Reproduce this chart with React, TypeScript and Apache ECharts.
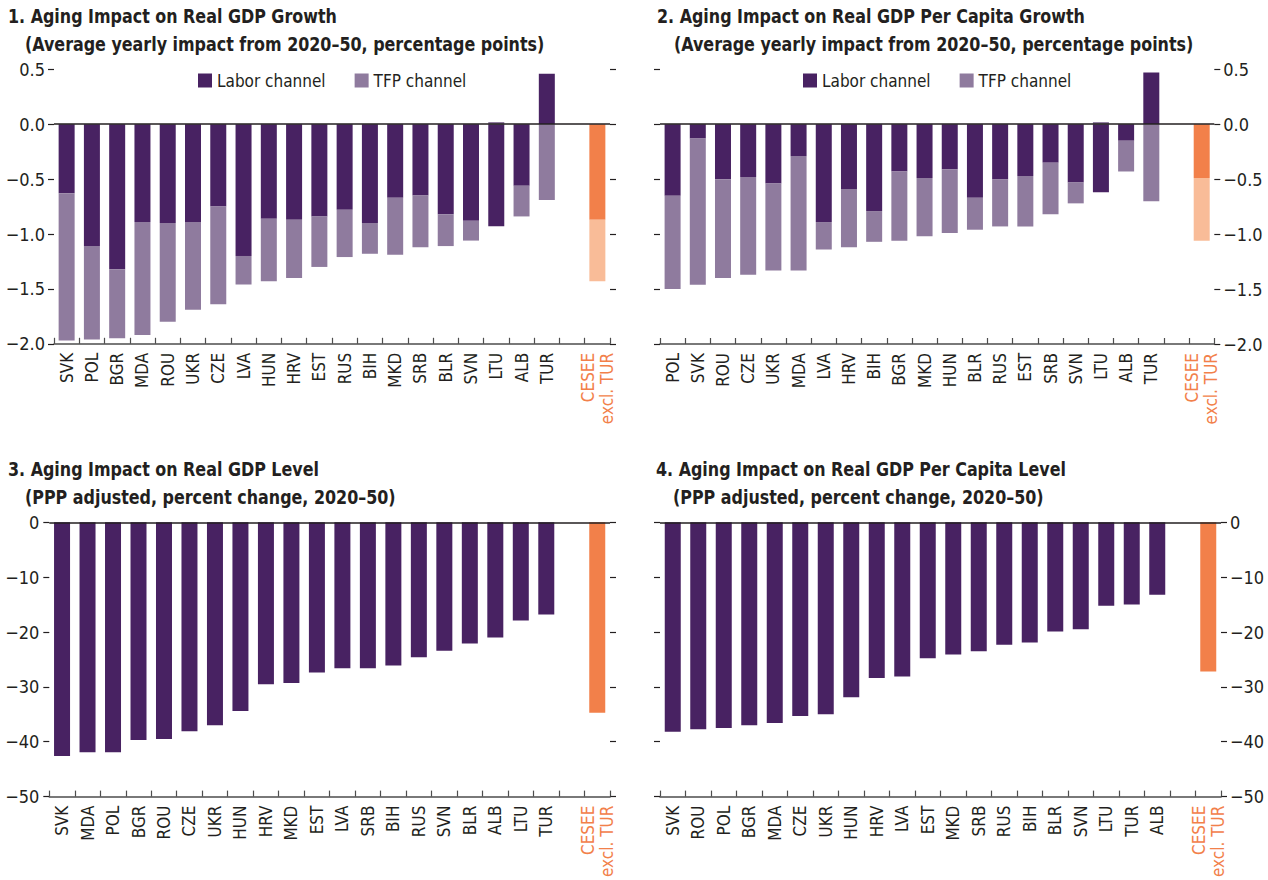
import React, { useEffect, useRef } from "react";
import * as echarts from "echarts";

const FONT = "'Liberation Sans Narrow', 'Arial Narrow', 'DejaVu Sans Condensed', sans-serif";
const DARK = "#231f20";
const LABOR = "#482262";
const TFP = "#8f7b9e";
const ORANGE = "#f2804a";
const LIGHT_ORANGE = "#f9bc98";
const AGG = "CESEE\nexcl. TUR";

// Panel 1: Aging impact on real GDP growth (pp)
const catsP1 = ["SVK", "POL", "BGR", "MDA", "ROU", "UKR", "CZE", "LVA", "HUN", "HRV", "EST", "RUS", "BIH", "MKD", "SRB", "BLR", "SVN", "LTU", "ALB", "TUR", "", AGG];
const laborP1 = [-0.63, -1.11, -1.32, -0.89, -0.9, -0.89, -0.75, -1.2, -0.86, -0.87, -0.84, -0.78, -0.9, -0.67, -0.65, -0.82, -0.88, -0.93, -0.56, 0.46, null, -0.87];
const tfpP1 = [-1.34, -0.85, -0.63, -1.03, -0.9, -0.8, -0.89, -0.26, -0.57, -0.53, -0.46, -0.43, -0.28, -0.52, -0.47, -0.29, -0.18, 0.02, -0.28, -0.69, null, -0.56];

// Panel 2: Aging impact on real GDP per capita growth (pp)
const catsP2 = ["POL", "SVK", "ROU", "CZE", "UKR", "MDA", "LVA", "HRV", "BIH", "BGR", "MKD", "HUN", "BLR", "RUS", "EST", "SRB", "SVN", "LTU", "ALB", "TUR", "", AGG];
const laborP2 = [-0.65, -0.13, -0.5, -0.48, -0.54, -0.29, -0.89, -0.59, -0.79, -0.43, -0.49, -0.41, -0.67, -0.5, -0.47, -0.35, -0.53, -0.62, -0.15, 0.47, null, -0.49];
const tfpP2 = [-0.85, -1.33, -0.9, -0.89, -0.79, -1.04, -0.25, -0.53, -0.28, -0.63, -0.53, -0.58, -0.29, -0.43, -0.46, -0.47, -0.19, 0.02, -0.28, -0.7, null, -0.57];

// Panel 3: Aging impact on real GDP level (%)
const catsP3 = ["SVK", "MDA", "POL", "BGR", "ROU", "CZE", "UKR", "HUN", "HRV", "MKD", "EST", "LVA", "SRB", "BIH", "RUS", "SVN", "BLR", "ALB", "LTU", "TUR", "", AGG];
const levelP3 = [-42.6, -41.9, -41.9, -39.7, -39.5, -38.1, -37.0, -34.4, -29.5, -29.3, -27.4, -26.6, -26.6, -26.1, -24.6, -23.4, -22.1, -21.0, -17.9, -16.8, null, -34.7];

// Panel 4: Aging impact on real GDP per capita level (%)
const catsP4 = ["SVK", "ROU", "POL", "BGR", "MDA", "CZE", "UKR", "HUN", "HRV", "LVA", "EST", "MKD", "SRB", "RUS", "BIH", "BLR", "SVN", "LTU", "TUR", "ALB", "", AGG];
const levelP4 = [-38.2, -37.7, -37.5, -37.0, -36.6, -35.3, -35.0, -31.9, -28.4, -28.1, -24.8, -24.1, -23.5, -22.3, -21.9, -19.9, -19.5, -15.2, -15.0, -13.2, null, -27.2];

const titles = [
  { l1: "1. Aging Impact on Real GDP Growth", l2: "(Average yearly impact from 2020–50, percentage points)", x1: 8, x2: 25, y1: 6, y2: 34 },
  { l1: "2. Aging Impact on Real GDP Per Capita Growth", l2: "(Average yearly impact from 2020–50, percentage points)", x1: 657, x2: 674, y1: 6, y2: 34 },
  { l1: "3. Aging Impact on Real GDP Level", l2: "(PPP adjusted, percent change, 2020–50)", x1: 8, x2: 25, y1: 459, y2: 487 },
  { l1: "4. Aging Impact on Real GDP Per Capita Level", l2: "(PPP adjusted, percent change, 2020–50)", x1: 656, x2: 673, y1: 459, y2: 487 },
];

const fmt1 = (v: number) => (v === 0 ? "0.0" : (v < 0 ? "\u2212" : "") + Math.abs(v).toFixed(1));
const fmt0 = (v: number) => (v === 0 ? "0" : (v < 0 ? "\u2212" : "") + Math.abs(v).toFixed(0));

function colorize(vals: (number | null)[], agg: string) {
  return vals.map((v, i) =>
    v === null ? "-" : i === vals.length - 1 ? { value: v, itemStyle: { color: agg } } : v
  );
}

export default function App() {
  const ref = useRef<HTMLDivElement>(null);
  useEffect(() => {
    if (!ref.current) return;
    const chart = echarts.init(ref.current, null, { renderer: "svg" });
    const grids = [
      { left: 54, top: 69.3, width: 556, height: 274.5 },
      { left: 660, top: 69.3, width: 554.3, height: 274.7 },
      { left: 49.3, top: 522.3, width: 560.7, height: 274.4 },
      { left: 660, top: 522.3, width: 561, height: 274.7 },
    ];
    const cats = [catsP1, catsP2, catsP3, catsP4];
    const xAxis = cats.map((c, i) => ({
      type: "category",
      gridIndex: i,
      data: c,
      position: "bottom",
      axisLine: { show: true, onZero: false, lineStyle: { color: "#4d4d4d", width: 1.5 } },
      axisTick: { show: true, inside: true, length: 6, interval: 0, lineStyle: { color: "#4d4d4d", width: 1.2 } },
      axisLabel: {
        interval: 0,
        rotate: 90,
        margin: 9,
        fontFamily: FONT,
        fontSize: 17,
        lineHeight: 19,
        color: (v: string) => (v && v.indexOf("CESEE") === 0 ? ORANGE : DARK),
      },
    }));
    const yAxis: any[] = [];
    [0, 1, 2, 3].forEach((i) => {
      const growth = i < 2;
      const labelRight = i === 1 || i === 3;
      const base = {
        type: "value",
        gridIndex: i,
        min: growth ? -2 : -50,
        max: growth ? 0.5 : 0,
        interval: growth ? 0.5 : 10,
        splitLine: { show: false },
        axisLine: { show: false },
        axisTick: { show: true, length: 6, lineStyle: { color: DARK, width: 1.2 } },
      };
      const lbl = {
        margin: i === 2 ? 10 : 9,
        fontFamily: FONT,
        fontSize: 18,
        color: DARK,
        formatter: growth ? fmt1 : fmt0,
      };
      yAxis.push({ ...base, position: "left", axisLabel: { ...lbl, show: !labelRight } });
      yAxis.push({ ...base, position: "right", axisLabel: { ...lbl, show: labelRight } });
    });
    const zeroLine = {
      silent: true,
      symbol: "none",
      data: [{ yAxis: 0 }],
      label: { show: false },
      lineStyle: { color: DARK, width: 1.5, type: "solid" },
    };
    const series: any[] = [
      { name: "Labor channel", type: "bar", xAxisIndex: 0, yAxisIndex: 0, stack: "p1", barWidth: 16, itemStyle: { color: LABOR }, data: colorize(laborP1, ORANGE), markLine: zeroLine },
      { name: "TFP channel", type: "bar", xAxisIndex: 0, yAxisIndex: 0, stack: "p1", barWidth: 16, itemStyle: { color: TFP }, data: colorize(tfpP1, LIGHT_ORANGE) },
      { name: "Labor channel", type: "bar", xAxisIndex: 1, yAxisIndex: 2, stack: "p2", barWidth: 16, itemStyle: { color: LABOR }, data: colorize(laborP2, ORANGE), markLine: zeroLine },
      { name: "TFP channel", type: "bar", xAxisIndex: 1, yAxisIndex: 2, stack: "p2", barWidth: 16, itemStyle: { color: TFP }, data: colorize(tfpP2, LIGHT_ORANGE) },
      { name: "Level", type: "bar", xAxisIndex: 2, yAxisIndex: 4, barWidth: 16, itemStyle: { color: LABOR }, data: colorize(levelP3, ORANGE), markLine: zeroLine },
      { name: "Per capita level", type: "bar", xAxisIndex: 3, yAxisIndex: 6, barWidth: 16, itemStyle: { color: LABOR }, data: colorize(levelP4, ORANGE), markLine: zeroLine },
    ];
    const legendBase = {
      data: ["Labor channel", "TFP channel"],
      top: 72,
      padding: 0,
      icon: "rect",
      itemWidth: 14,
      itemHeight: 14,
      itemGap: 29,
      selectedMode: false,
      textStyle: { fontFamily: FONT, fontSize: 17, color: DARK },
    };
    const graphic: any[] = [];
    titles.forEach((t) => {
      [[t.l1, t.x1, t.y1], [t.l2, t.x2, t.y2]].forEach(([text, x, y]) => {
        graphic.push({
          type: "text",
          x,
          y,
          scaleX: 0.885,
          silent: true,
          style: {
            text,
            fill: DARK,
            font: `bold 20px ${FONT}`,
            verticalAlign: "top",
            align: "left",
          },
        });
      });
    });
    chart.setOption({
      animation: false,
      backgroundColor: "#ffffff",
      graphic,
      legend: [
        { ...legendBase, left: 198 },
        { ...legendBase, left: 803 },
      ],
      grid: grids,
      xAxis,
      yAxis,
      series,
    });
    return () => chart.dispose();
  }, []);
  return (
    <div
      ref={ref}
      style={{ position: "fixed", left: 0, top: 0, width: 1268, height: 880, background: "#fff" }}
    />
  );
}
